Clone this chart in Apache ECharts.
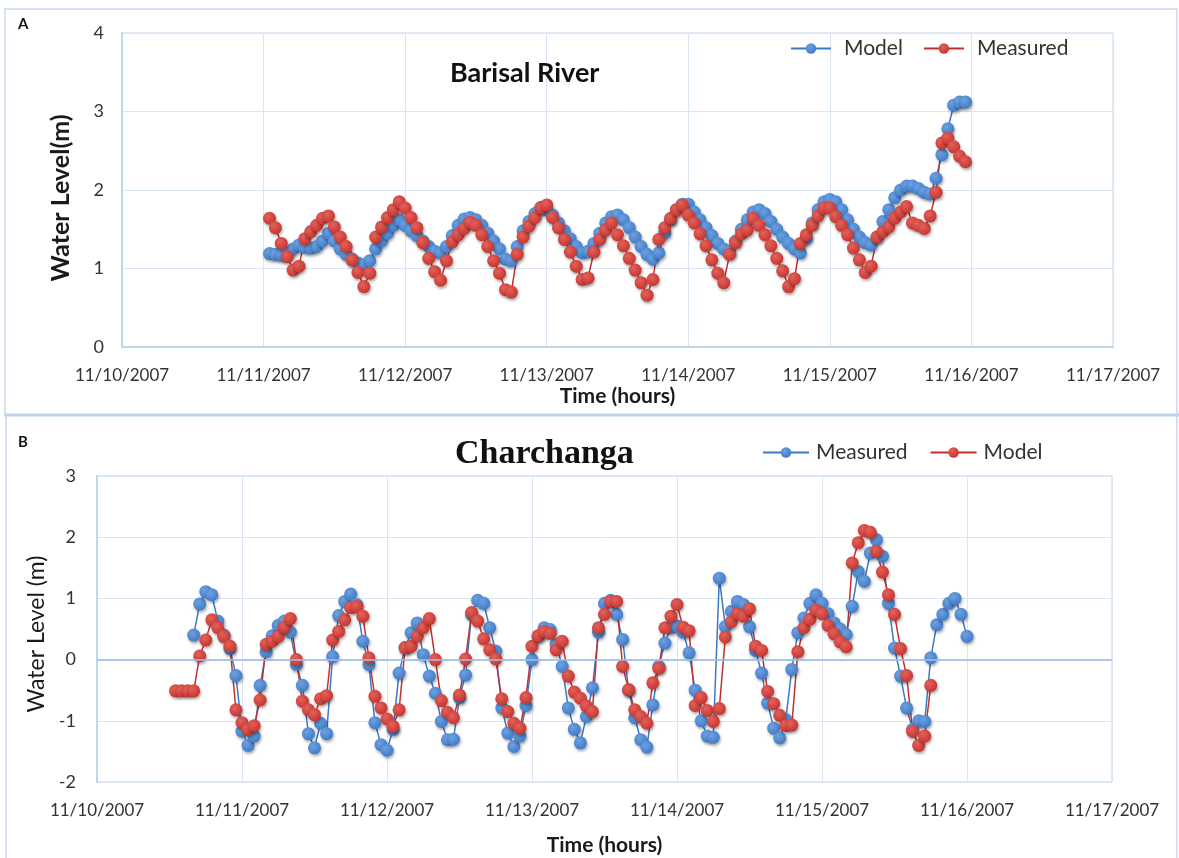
<!DOCTYPE html>
<html>
<head>
<meta charset="utf-8">
<script src="https://cdn.jsdelivr.net/npm/echarts/dist/echarts.min.js"></script>
<style>
  html, body { margin: 0; padding: 0; background: #ffffff; }
  #chart { width: 1179px; height: 858px; }
</style>
</head>
<body>
<div id="chart"></div>
<script>
// Day ticks of the time axis (axis unit = hours after 11/10/2007 00:00)
const tickLabels = ['11/10/2007', '11/11/2007', '11/12/2007', '11/13/2007',
                    '11/14/2007', '11/15/2007', '11/16/2007', '11/17/2007'];

// Barisal River, hourly water level (m), first value at hour 25
const barisalStartHour = 25;
const barisalModel = [
  1.19, 1.18, 1.17, 1.20, 1.25, 1.30, 1.27, 1.26, 1.28, 1.35,
  1.45, 1.35, 1.25, 1.18, 1.12, 1.07, 1.05, 1.10, 1.25, 1.35,
  1.45, 1.55, 1.62, 1.55, 1.48, 1.42, 1.35, 1.28, 1.22, 1.20,
  1.28, 1.42, 1.55, 1.63, 1.65, 1.62, 1.55, 1.45, 1.35, 1.25,
  1.12, 1.10, 1.28, 1.48, 1.60, 1.70, 1.78, 1.75, 1.68, 1.58,
  1.48, 1.38, 1.28, 1.20, 1.22, 1.32, 1.45, 1.58, 1.66, 1.68,
  1.62, 1.52, 1.40, 1.28, 1.18, 1.12, 1.20, 1.45, 1.62, 1.75,
  1.82, 1.82, 1.72, 1.62, 1.52, 1.42, 1.32, 1.25, 1.22, 1.35,
  1.50, 1.62, 1.72, 1.75, 1.70, 1.60, 1.50, 1.40, 1.32, 1.25,
  1.20, 1.38, 1.58, 1.75, 1.85, 1.88, 1.85, 1.75, 1.62, 1.50,
  1.40, 1.33, 1.30, 1.40, 1.60, 1.75, 1.90, 2.00, 2.05, 2.05,
  2.02, 1.97, 1.95, 2.15, 2.45, 2.78, 3.08, 3.12, 3.12
];
const barisalMeasured = [
  1.64, 1.52, 1.32, 1.15, 0.98, 1.03, 1.38, 1.47, 1.55, 1.64,
  1.67, 1.53, 1.40, 1.28, 1.11, 0.95, 0.77, 0.94, 1.40, 1.53,
  1.65, 1.75, 1.85, 1.77, 1.65, 1.52, 1.33, 1.13, 0.96, 0.85,
  1.10, 1.34, 1.43, 1.51, 1.59, 1.55, 1.43, 1.28, 1.10, 0.94,
  0.73, 0.70, 1.18, 1.40, 1.54, 1.65, 1.77, 1.81, 1.65, 1.52,
  1.37, 1.21, 1.03, 0.86, 0.88, 1.21, 1.37, 1.49, 1.58, 1.43,
  1.29, 1.13, 0.98, 0.82, 0.66, 0.86, 1.37, 1.52, 1.64, 1.75,
  1.81, 1.68, 1.58, 1.44, 1.29, 1.11, 0.94, 0.82, 1.18, 1.33,
  1.44, 1.49, 1.64, 1.55, 1.43, 1.29, 1.13, 0.97, 0.77, 0.87,
  1.32, 1.43, 1.55, 1.67, 1.77, 1.77, 1.66, 1.55, 1.43, 1.26,
  1.11, 0.95, 1.03, 1.40, 1.47, 1.53, 1.64, 1.72, 1.79, 1.58,
  1.55, 1.51, 1.67, 1.97, 2.60, 2.66, 2.55, 2.43, 2.36
];

// Charchanga, hourly water level (m)
const charchangaMeasuredStartHour = 16;
const charchangaMeasured = [
  0.40, 0.91, 1.11, 1.06, 0.63, 0.40, 0.18, -0.26, -1.17, -1.40,
  -1.25, -0.42, 0.13, 0.39, 0.56, 0.63, 0.45, -0.08, -0.42, -1.21,
  -1.44, -1.04, -1.21, 0.05, 0.72, 0.95, 1.07, 0.90, 0.30, -0.08,
  -1.03, -1.39, -1.48, -1.14, -0.22, 0.20, 0.44, 0.60, 0.08, -0.27,
  -0.55, -1.01, -1.31, -1.30, -0.62, -0.25, 0.74, 0.97, 0.92, 0.52,
  0.14, -0.79, -1.20, -1.42, -1.25, -0.75, 0.00, 0.38, 0.52, 0.49,
  0.25, -0.11, -0.79, -1.14, -1.36, -0.93, -0.46, 0.45, 0.92, 0.97,
  0.74, 0.33, -0.50, -0.95, -1.31, -1.43, -0.74, -0.11, 0.27, 0.52,
  0.55, 0.45, 0.11, -0.50, -1.00, -1.25, -1.27, 1.33, 0.54, 0.79,
  0.95, 0.90, 0.54, 0.15, -0.22, -0.71, -1.12, -1.28, -0.98, -0.16,
  0.44, 0.68, 0.92, 1.06, 0.92, 0.75, 0.60, 0.50, 0.41, 0.87,
  1.44, 1.28, 1.74, 1.96, 1.69, 0.92, 0.19, -0.27, -0.79, -1.14,
  -1.00, -1.01, 0.03, 0.57, 0.74, 0.92, 1.00, 0.74, 0.38
];
const charchangaModelStartHour = 13;
const charchangaModel = [
  -0.51, -0.51, -0.51, -0.51,
  0.06, 0.32, 0.65, 0.52, 0.38, 0.22, -0.82, -1.03, -1.14, -1.08,
  -0.66, 0.25, 0.30, 0.38, 0.53, 0.67, 0.00, -0.68, -0.82, -0.90,
  -0.64, -0.59, 0.32, 0.46, 0.65, 0.85, 0.87, 0.71, 0.03, -0.60,
  -0.79, -0.97, -1.09, -0.82, 0.19, 0.22, 0.38, 0.52, 0.67, 0.00,
  -0.67, -0.86, -0.95, -0.58, 0.01, 0.77, 0.63, 0.34, 0.16, 0.01,
  -0.64, -0.85, -1.04, -1.12, -0.62, 0.22, 0.39, 0.46, 0.43, 0.16,
  0.30, -0.27, -0.53, -0.63, -0.76, -0.85, 0.52, 0.74, 0.95, 0.95,
  -0.11, -0.49, -0.82, -0.93, -1.04, -0.38, -0.14, 0.52, 0.71, 0.90,
  0.53, 0.47, -0.75, -0.62, -0.83, -1.01, -0.80, 0.37, 0.62, 0.75,
  0.71, 0.83, 0.22, 0.15, -0.52, -0.72, -0.91, -1.08, -1.07, 0.13,
  0.52, 0.66, 0.81, 0.75, 0.56, 0.42, 0.29, 0.21, 1.58, 1.91,
  2.11, 2.08, 1.77, 1.43, 1.06, 0.74, 0.18, -0.26, -1.17, -1.40,
  -1.25, -0.42
];

const BLUE = '#3a78c8';
const BLUE_LIGHT = '#6ea0de';
const RED = '#c42f2b';
const RED_LIGHT = '#e2625b';
const GRID_LINE = '#dbe6f4';
const AXIS_LINE = '#c2d5ee';
const TEXT = '#333333';
const FONT = 'Lato, "Open Sans", sans-serif';

function toPoints(startHour, values) {
  return values.map((v, i) => [startHour + i, v]);
}

function markerStyle(base, light) {
  return {
    color: new echarts.graphic.RadialGradient(0.38, 0.35, 0.75, [
      { offset: 0, color: light },
      { offset: 1, color: base }
    ]),
    borderWidth: 0,
    shadowBlur: 3,
    shadowOffsetX: 1,
    shadowOffsetY: 2,
    shadowColor: 'rgba(0,0,0,0.35)'
  };
}

function lineSeries(name, axisIndex, points, base, light, extra) {
  return Object.assign({
    name: name,
    type: 'line',
    xAxisIndex: axisIndex,
    yAxisIndex: axisIndex,
    data: points,
    symbol: 'circle',
    symbolSize: 13,
    showAllSymbol: true,
    lineStyle: { color: base, width: 1.5 },
    itemStyle: markerStyle(base, light),
    emphasis: { disabled: true },
    animation: false
  }, extra || {});
}

function timeAxis(gridIndex, nameGap) {
  return {
    gridIndex: gridIndex,
    type: 'value',
    min: 0,
    max: 168,
    interval: 24,
    axisLine: { show: true, lineStyle: { color: AXIS_LINE, width: 2 } },
    axisTick: { show: false },
    axisLabel: {
      formatter: v => tickLabels[Math.round(v / 24)],
      color: TEXT, fontFamily: FONT, fontSize: 17, margin: 20
    },
    splitLine: { show: true, lineStyle: { color: GRID_LINE, width: 1 } },
    name: 'Time (hours)',
    nameLocation: 'middle',
    nameGap: nameGap,
    nameTextStyle: { color: '#1a1a1a', fontFamily: FONT, fontSize: 21, fontWeight: 'bold' }
  };
}

// shiftDown moves the rotated axis name toward the bottom of the plot
function levelAxis(gridIndex, min, max, name, weight, size, labelMargin, nameGap, shiftDown) {
  return {
    gridIndex: gridIndex,
    type: 'value',
    min: min,
    max: max,
    interval: 1,
    axisLine: { show: true, lineStyle: { color: AXIS_LINE, width: 2 } },
    axisTick: { show: false },
    axisLabel: { color: TEXT, fontFamily: FONT, fontSize: 18, margin: labelMargin },
    splitLine: { show: true, lineStyle: { color: GRID_LINE, width: 1 } },
    name: name,
    nameLocation: 'middle',
    nameGap: nameGap,
    nameTextStyle: {
      color: '#1a1a1a', fontFamily: FONT, fontSize: size, fontWeight: weight,
      padding: [0, shiftDown * 2, 0, 0]
    }
  };
}

const chart = echarts.init(document.getElementById('chart'), null, { renderer: 'canvas' });

chart.setOption({
  animation: false,
  backgroundColor: '#ffffff',
  title: [
    { text: 'A', left: 13, top: 12, textStyle: { fontFamily: FONT, fontSize: 15, fontWeight: 'bold', color: '#111' } },
    { text: 'Barisal River', left: 445, top: 55, textStyle: { fontFamily: FONT, fontSize: 27, fontWeight: 'bold', color: '#111' } },
    { text: 'B', left: 13, top: 430, textStyle: { fontFamily: FONT, fontSize: 15, fontWeight: 'bold', color: '#111' } },
    { text: 'Charchanga', left: 450, top: 432, textStyle: { fontFamily: '"Liberation Serif", "DejaVu Serif", serif', fontSize: 34, fontWeight: 'bold', color: '#111' } }
  ],
  legend: [
    {
      data: ['Model', 'Measured'].map(n => ({ name: n })),
      left: 785, top: 33, itemWidth: 40, itemHeight: 13, itemGap: 20,
      textStyle: { fontFamily: FONT, fontSize: 21, color: TEXT, padding: [0, 0, 0, 8] },
      selectedMode: false
    },
    {
      data: ['Measured ', 'Model '].map(n => ({ name: n })),
      left: 757, top: 437, itemWidth: 46, itemHeight: 13, itemGap: 22,
      textStyle: { fontFamily: FONT, fontSize: 21, color: TEXT, padding: [0, 0, 0, 2] },
      formatter: n => n.trim(),
      selectedMode: false
    }
  ],
  grid: [
    { left: 122, right: 66, top: 33, bottom: 511, show: true, borderColor: AXIS_LINE, borderWidth: 1 },
    { left: 97, right: 67, top: 476, bottom: 76, show: true, borderColor: AXIS_LINE, borderWidth: 1 }
  ],
  xAxis: [timeAxis(0, 39), timeAxis(1, 53)],
  yAxis: [
    levelAxis(0, 0, 4, 'Water Level(m)', 'bold', 25, 18, 49, 8),
    levelAxis(1, -2, 3, 'Water Level (m)', 'normal', 23, 21, 49, 5)
  ],
  graphic: [
    { type: 'rect', shape: { x: 5, y: 9, width: 1172, height: 406 }, style: { fill: 'none', stroke: '#d3e1f3', lineWidth: 2 }, silent: true },
    { type: 'rect', shape: { x: 6, y: 415, width: 1171, height: 445 }, style: { fill: 'none', stroke: '#d3e1f3', lineWidth: 2 }, silent: true },
    { type: 'line', shape: { x1: 5, y1: 415, x2: 1179, y2: 415 }, style: { stroke: '#bcd2ee', lineWidth: 3 }, silent: true }
  ],
  series: [
    lineSeries('Model', 0, toPoints(barisalStartHour, barisalModel), BLUE, BLUE_LIGHT),
    lineSeries('Measured', 0, toPoints(barisalStartHour, barisalMeasured), RED, RED_LIGHT),
    lineSeries('Measured ', 1, toPoints(charchangaMeasuredStartHour, charchangaMeasured), BLUE, BLUE_LIGHT, {
      markLine: {
        silent: true,
        symbol: 'none',
        label: { show: false },
        lineStyle: { color: '#a3c1e8', width: 1.5, type: 'solid' },
        data: [{ yAxis: 0 }],
        animation: false
      }
    }),
    lineSeries('Model ', 1, toPoints(charchangaModelStartHour, charchangaModel), RED, RED_LIGHT)
  ]
});
</script>
</body>
</html>
